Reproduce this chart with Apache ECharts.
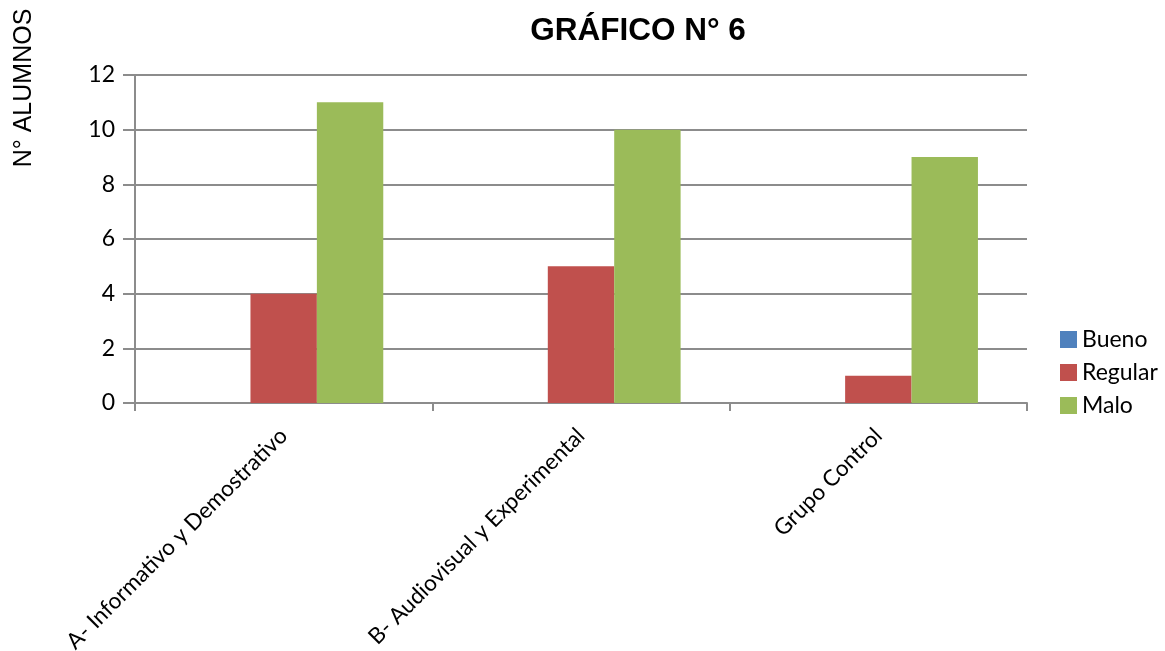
<!DOCTYPE html>
<html>
<head>
<meta charset="utf-8">
<script src="https://cdn.jsdelivr.net/npm/echarts@6/dist/echarts.min.js"></script>
<style>
  html, body { margin: 0; padding: 0; background: #fff; }
  #chart { width: 1165px; height: 651px; }
</style>
</head>
<body>
<div id="chart"></div>
<script>
const categories = ['A- Informativo y Demostrativo', 'B- Audiovisual y Experimental', 'Grupo Control'];
const bueno = [0, 0, 0];
const regular = [4, 5, 1];
const malo = [11, 10, 9];
const yTicks = [0, 2, 4, 6, 8, 10, 12];

const chart = echarts.init(document.getElementById('chart'));
const axisGray = '#8c8c8c';
const labelFont = 'Lato, "Open Sans", sans-serif';

chart.setOption({
  animation: false,
  title: {
    text: 'GRÁFICO N° 6',
    left: 633,
    top: 10,
    textAlign: 'center',
    textStyle: { fontFamily: '"Liberation Sans", Arial, sans-serif', fontSize: 31.5, fontWeight: 'bold', color: '#000' },
  },
  graphic: [
    {
      type: 'text',
      x: 24,
      y: 88,
      rotation: Math.PI / 2,
      style: {
        text: 'N° ALUMNOS',
        fontFamily: '"Liberation Sans", Arial, sans-serif',
        fontSize: 25,
        fill: '#000',
        textAlign: 'center',
        textVerticalAlign: 'middle',
      },
    },
  ],
  legend: {
    orient: 'vertical',
    left: 1055,
    top: 323,
    itemWidth: 17,
    itemHeight: 17,
    itemGap: 10,
    icon: 'rect',
    textStyle: { fontFamily: labelFont, fontSize: 23, color: '#000' },
    data: ['Bueno', 'Regular', 'Malo'],
  },
  grid: { left: 135, right: 138, top: 75, bottom: 248, outerBoundsMode: 'none', containLabel: false },
  xAxis: {
    type: 'category',
    data: categories,
    axisLine: { lineStyle: { color: axisGray, width: 2 } },
    axisTick: { show: true, length: 8, lineStyle: { color: axisGray, width: 2 } },
    axisLabel: { rotate: 45, margin: 29, fontFamily: labelFont, fontSize: 22.5, color: '#000', interval: 0 },
  },
  yAxis: {
    type: 'value',
    min: 0,
    max: 12,
    interval: 2,
    axisLine: { show: true, lineStyle: { color: axisGray, width: 2 } },
    axisTick: { show: true, length: 12, lineStyle: { color: axisGray, width: 2 } },
    axisLabel: {
      fontFamily: labelFont, fontSize: 23, color: '#000', margin: 20,
      formatter: (v) => (yTicks.includes(v) ? String(v) : ''),
    },
    splitLine: { lineStyle: { color: axisGray, width: 2 } },
  },
  series: [
    { name: 'Bueno', type: 'bar', data: bueno, barGap: 0, barCategoryGap: '33%', itemStyle: { color: '#4F81BD' } },
    { name: 'Regular', type: 'bar', data: regular, barGap: 0, barCategoryGap: '33%', itemStyle: { color: '#C0504D' } },
    { name: 'Malo', type: 'bar', data: malo, barGap: 0, barCategoryGap: '33%', itemStyle: { color: '#9BBB59' } },
  ],
});
</script>
</body>
</html>
